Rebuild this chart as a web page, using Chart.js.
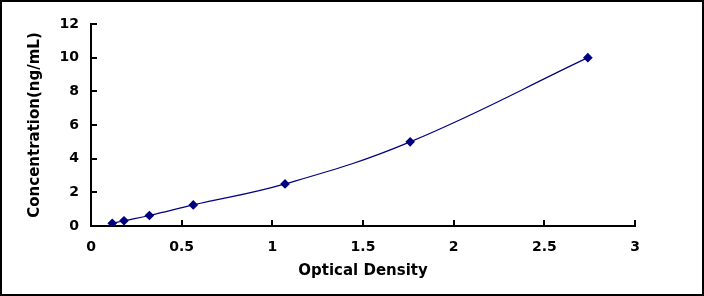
<!DOCTYPE html>
<html>
<head>
<meta charset="utf-8">
<script src="https://cdn.jsdelivr.net/npm/chart.js@4/dist/chart.umd.min.js"></script>
<style>
  html, body { margin: 0; padding: 0; background: #fff; }
  #wrap { width: 704px; height: 296px; position: relative; }
</style>
</head>
<body>
<div id="wrap"><canvas id="chartStd"></canvas></div>
<script>
// standard curve readings
const odValues = [0.117, 0.182, 0.322, 0.564, 1.07, 1.76, 2.74];
const concValues = [0.156, 0.312, 0.625, 1.25, 2.5, 5, 10];
const xTicks = [0, 0.5, 1, 1.5, 2, 2.5, 3];
const yTicks = [0, 2, 4, 6, 8, 10, 12];

const points = odValues.map((x, i) => ({ x: x, y: concValues[i] }));
const tickFont = { family: 'DejaVu Sans, sans-serif', size: 14, weight: 'bold' };
const titleFont = { family: 'DejaVu Sans, sans-serif', size: 15, weight: 'bold' };

// inward ticks + frame
const innerTicks = {
    id: 'innerTicks',
    afterDraw(chart) {
        const ctx = chart.ctx;
        const xs = chart.scales.x;
        const ys = chart.scales.y;
        ctx.save();
        ctx.strokeStyle = '#000';
        ctx.lineWidth = 2;
        xTicks.forEach(v => {
            const px = Math.round(xs.getPixelForValue(v));
            ctx.beginPath();
            ctx.moveTo(px, ys.bottom);
            ctx.lineTo(px, ys.bottom - 6);
            ctx.stroke();
        });
        yTicks.forEach(v => {
            const py = Math.round(ys.getPixelForValue(v));
            ctx.beginPath();
            ctx.moveTo(xs.left, py);
            ctx.lineTo(xs.left + 6, py);
            ctx.stroke();
        });
        ctx.strokeRect(1, 1, chart.width - 2, chart.height - 2);
        ctx.restore();
    }
};

new Chart("chartStd", {
    type: "scatter",
    data: {
        datasets: [{
            data: points,
            showLine: true,
            borderColor: "#000080",
            borderWidth: 1.2,
            backgroundColor: "#000080",
            pointStyle: "rectRot",
            pointRadius: 4,
            tension: 0.4
        }]
    },
    options: {
        responsive: true,
        maintainAspectRatio: false,
        animation: false,
        layout: { padding: { left: 0, right: 69, top: 24, bottom: 0 } },
        plugins: { legend: { display: false }, tooltip: { enabled: false } },
        scales: {
            x: {
                type: "linear",
                min: 0, max: 3,
                afterBuildTicks: (s) => { s.ticks = xTicks.map(v => ({ value: v })); },
                afterFit: (s) => { s.height = 70; },
                grid: { display: false, drawTicks: false },
                border: { display: true, color: "#000", width: 2 },
                ticks: { color: "#000", font: tickFont, padding: 13, maxRotation: 0, callback: (v) => String(v) },
                title: { display: true, text: "Optical Density", color: "#000", font: titleFont, padding: { top: 0, bottom: 16 } }
            },
            y: {
                type: "linear",
                min: 0, max: 12,
                afterBuildTicks: (s) => { s.ticks = yTicks.map(v => ({ value: v })); },
                afterFit: (s) => { s.width = 91; },
                grid: { display: false, drawTicks: false },
                border: { display: true, color: "#000", width: 2 },
                ticks: { color: "#000", font: tickFont, padding: 12, callback: (v) => String(v) },
                title: { display: true, text: "Concentration(ng/mL)", color: "#000", font: titleFont, padding: { top: 26, bottom: 0 } }
            }
        }
    },
    plugins: [innerTicks]
});
</script>
</body>
</html>
